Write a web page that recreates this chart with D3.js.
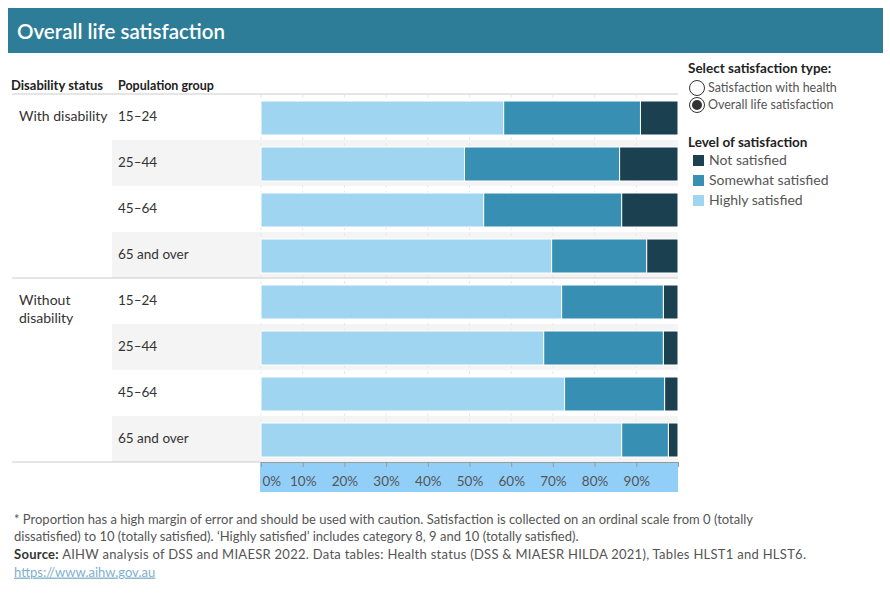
<!DOCTYPE html>
<html lang="en">
    <head>
        <meta charset="utf-8">
        <title>Overall life satisfaction</title>
        <script src="https://d3js.org/d3.v7.min.js"></script>
        <style type="text/css">
        body {
            margin: 0;
            background-color: white;
        }
        svg text {
            font-family: Lato, "Noto Sans", sans-serif;
        }
        </style>
    </head>
    <body>
        <svg width="890" height="600"></svg>
        <script type="text/javascript">

            // data (percent)
            const statuses = ["With disability", "Without disability"];
            const ageGroups = ["15–24", "25–44", "45–64", "65 and over"];
            const levels = ["Highly satisfied", "Somewhat satisfied", "Not satisfied"];
            const highly   = [58.2, 48.8, 53.4, 69.7, 72.1, 67.8, 72.8, 86.5];
            const somewhat = [32.8, 37.2, 33.1, 22.8, 24.4, 28.7, 24.0, 11.2];
            const notSat   = [9.0, 14.0, 13.5, 7.5, 3.5, 3.5, 3.2, 2.3];
            const tickValues = [0, 10, 20, 30, 40, 50, 60, 70, 80, 90];

            const svg = d3.select("svg");
            const colors = d3.scaleOrdinal()
                             .domain(levels)
                             .range(["#9fd5f0", "#378fb4", "#1b4050"]);

            // rows: one per status x age group
            const rows = [];
            statuses.forEach((s, si) => {
                ageGroups.forEach((a, ai) => {
                    const i = si * ageGroups.length + ai;
                    rows.push({key: s + "|" + a, status: s, age: a, idx: i,
                               values: [highly[i], somewhat[i], notSat[i]]});
                });
            });

            const x = d3.scaleLinear().domain([0, 100]).range([261, 678]);
            const y = d3.scaleBand().domain(rows.map(d => d.key)).range([94, 462]);

            // title banner
            svg.append("rect")
               .attr("x", 8).attr("y", 8).attr("width", 875).attr("height", 45)
               .style("fill", "#2e7d98");
            svg.append("text")
               .attr("x", 17).attr("y", 39)
               .text("Overall life satisfaction")
               .style("fill", "white").style("font-size", "20.5px").style("font-weight", "600");

            // column headers
            svg.append("text").attr("x", 11).attr("y", 90)
               .text("Disability status")
               .style("font-size", "13px").style("font-weight", "bold").style("fill", "#222");
            svg.append("text").attr("x", 118).attr("y", 90)
               .text("Population group")
               .style("font-size", "12.5px").style("font-weight", "bold").style("fill", "#222");

            // shaded alternate rows
            svg.selectAll("rect.shade")
               .data(rows.filter((d, i) => i % 2 === 1))
               .enter()
               .append("rect")
               .attr("class", "shade")
               .attr("x", 112).attr("width", 678 - 112)
               .attr("y", d => y(d.key)).attr("height", y.bandwidth())
               .style("fill", "#f4f4f4");

            // gridlines
            svg.selectAll("line.grid")
               .data(tickValues)
               .enter()
               .append("line")
               .attr("class", "grid")
               .attr("x1", d => x(d)).attr("x2", d => x(d))
               .attr("y1", 95).attr("y2", 462)
               .style("stroke", "#e8e8e8")
               .style("stroke-dasharray", "3,3");

            // divider lines
            [94, 278].forEach(yy => {
                svg.append("line")
                   .attr("x1", 12).attr("x2", 678).attr("y1", yy).attr("y2", yy)
                   .style("stroke", "#cccccc").style("stroke-width", 1.2);
            });
            svg.append("line")
               .attr("x1", 12).attr("x2", 260).attr("y1", 462).attr("y2", 462)
               .style("stroke", "#cccccc").style("stroke-width", 1.2);

            // stacked bars
            const stack = rows.map(r => {
                let start = 0;
                return r.values.map((v, j) => {
                    const seg = {row: r, level: levels[j], x0: start, x1: start + v};
                    start += v;
                    return seg;
                });
            }).flat();

            svg.selectAll("rect.bar")
               .data(stack)
               .enter()
               .append("rect")
               .attr("class", "bar")
               .attr("x", d => x(d.x0))
               .attr("width", d => Math.max(0, x(Math.min(d.x1, 100)) - x(d.x0)))
               .attr("y", d => y(d.row.key) + 7)
               .attr("height", y.bandwidth() - 12)
               .style("fill", d => colors(d.level))
               .style("stroke", "white")
               .style("stroke-width", 1);

            // row labels
            svg.selectAll("text.age")
               .data(rows)
               .enter()
               .append("text")
               .attr("class", "age")
               .attr("x", 118)
               .attr("y", d => y(d.key) + y.bandwidth() / 2 - 0.5)
               .attr("dy", "0.35em")
               .text(d => d.age)
               .style("font-size", "13.5px").style("fill", "#333");

            svg.append("text").attr("x", 19).attr("y", y(rows[0].key) + y.bandwidth() / 2 - 0.5)
               .attr("dy", "0.35em").text(statuses[0])
               .style("font-size", "14px").style("fill", "#333");
            const wo = svg.append("text").attr("x", 19).attr("y", y(rows[4].key) + y.bandwidth() / 2 - 0.5)
               .attr("dy", "0.35em").style("font-size", "14px").style("fill", "#333");
            wo.append("tspan").attr("x", 19).text("Without");
            wo.append("tspan").attr("x", 19).attr("dy", "18").text("disability");

            // axis strip
            svg.append("rect")
               .attr("x", 260).attr("y", 462).attr("width", 418).attr("height", 30)
               .style("fill", "#91cff9");
            const axis = svg.append("g")
               .attr("transform", "translate(0,462)")
               .call(d3.axisBottom(x).tickValues(tickValues.concat([100]))
                      .tickFormat(d => d === 100 ? "" : d + "%")
                      .tickSize(5).tickPadding(9));
            axis.select(".domain").style("stroke", "#999");
            axis.selectAll(".tick line").style("stroke", "#999");
            axis.selectAll(".tick text")
                .style("font-size", "13.5px").style("fill", "#555")
                .style("font-family", "Lato, 'Noto Sans', sans-serif");
            axis.selectAll(".tick text").filter(d => d === 0)
                .attr("text-anchor", "start").attr("x", 1);

            // selector
            svg.append("text").attr("x", 688).attr("y", 73)
               .text("Select satisfaction type:")
               .style("font-size", "13.5px").style("font-weight", "bold").style("fill", "#222");
            const radios = ["Satisfaction with health", "Overall life satisfaction"];
            radios.forEach((r, i) => {
                const cy = 88 + i * 17;
                svg.append("circle").attr("cx", 697).attr("cy", cy).attr("r", 7.5)
                   .style("fill", "white").style("stroke", "#333").style("stroke-width", 1);
                if (i === 1) {
                    svg.append("circle").attr("cx", 697).attr("cy", cy).attr("r", 5)
                       .style("fill", "#333");
                }
                svg.append("text").attr("x", 708).attr("y", cy).attr("dy", "0.35em")
                   .text(r).style("font-size", "12.5px").style("fill", "#555");
            });

            // legend
            svg.append("text").attr("x", 688).attr("y", 147)
               .text("Level of satisfaction")
               .style("font-size", "13.5px").style("font-weight", "bold").style("fill", "#222");
            const legendOrder = levels.slice().reverse();
            legendOrder.forEach((l, i) => {
                const cy = 160 + i * 20;
                svg.append("rect").attr("x", 693).attr("y", cy - 5).attr("width", 11).attr("height", 11)
                   .style("fill", colors(l));
                svg.append("text").attr("x", 709).attr("y", cy).attr("dy", "0.35em")
                   .text(l).style("font-size", "14px").style("fill", "#555");
            });

            // footer
            const footer = [
                "* Proportion has a high margin of error and should be used with caution. Satisfaction is collected on an ordinal scale from 0 (totally",
                "dissatisfied) to 10 (totally satisfied). ‘Highly satisfied’ includes category 8, 9 and 10 (totally satisfied)."
            ];
            footer.forEach((t, i) => {
                svg.append("text").attr("x", 14).attr("y", 519 + i * 17.5).attr("dy", "0.35em")
                   .text(t).style("font-size", "13px").style("fill", "#555");
            });
            const src = svg.append("text").attr("x", 14).attr("y", 554).attr("dy", "0.35em")
               .attr("textLength", 792).attr("lengthAdjust", "spacing")
               .style("font-size", "13px").style("fill", "#555");
            src.append("tspan").text("Source:").style("font-weight", "bold").style("fill", "#333");
            src.append("tspan").text(" AIHW analysis of DSS and MIAESR 2022. Data tables: Health status (DSS & MIAESR HILDA 2021), Tables HLST1 and HLST6.");
            svg.append("text").attr("x", 14).attr("y", 572).attr("dy", "0.35em")
               .text("https://www.aihw.gov.au")
               .style("font-size", "13px").style("fill", "#7fb0cc")
               .style("text-decoration", "underline");

        </script>
    </body>
</html>
